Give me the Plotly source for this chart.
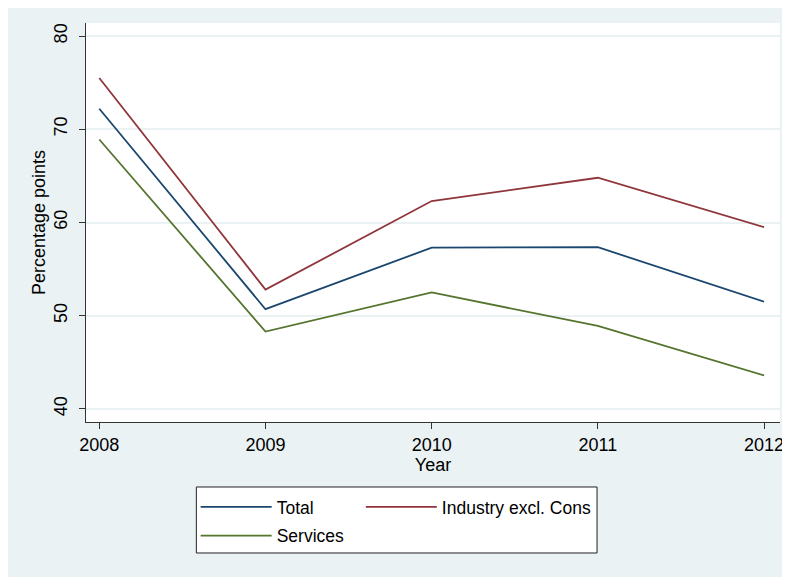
import plotly.graph_objects as go

years = [2008, 2009, 2010, 2011, 2012]
total = [72.2, 50.7, 57.3, 57.35, 51.5]
industry = [75.5, 52.8, 62.3, 64.8, 59.5]
services = [68.9, 48.3, 52.5, 48.9, 43.6]

series = [("Total", total, "#1A476F", "legend"),
          ("Industry excl. Cons", industry, "#90353B", "legend2"),
          ("Services", services, "#55752F", "legend")]

fig = go.Figure()
for name, vals, col, lg in series:
    fig.add_trace(go.Scatter(x=years, y=vals, mode="lines", name=name,
                             legend=lg, legendgroup=name,
                             line=dict(color=col, width=1.8)))

fam = "Liberation Sans, Arial, sans-serif"
legfont = dict(family=fam, size=17.5, color="black")
fig.update_layout(
    width=782, height=569,
    margin=dict(l=78, r=6, t=15, b=155),
    paper_bgcolor="#EAF2F3", plot_bgcolor="white",
    font=dict(family=fam, size=18, color="black"),
    showlegend=True,
    legend=dict(orientation="v", x=0.158, y=-0.168, xanchor="left", yanchor="top",
                bgcolor="rgba(0,0,0,0)", borderwidth=0, itemwidth=71,
                tracegroupgap=3, font=legfont),
    legend2=dict(orientation="v", x=0.396, y=-0.168, xanchor="left", yanchor="top",
                 bgcolor="rgba(0,0,0,0)", borderwidth=0, itemwidth=71,
                 tracegroupgap=3, font=legfont),
    shapes=[dict(type="rect", xref="paper", yref="paper",
                 x0=0.159, x1=0.7364, y0=-0.3283, y1=-0.1629,
                 fillcolor="white", line=dict(color="#222", width=1), layer="below")],
)
fig.update_xaxes(range=[2007.92, 2012.096], tickvals=years, ticks="outside", ticklen=6,
                 tickcolor="#333", showline=True, linecolor="#333", linewidth=1.2,
                 showgrid=False, zeroline=False, tickfont=dict(size=18),
                 title=dict(text="Year", standoff=0, font=dict(size=18)))
fig.update_yaxes(range=[38.6, 81.4], tickvals=[40, 50, 60, 70, 80], tickangle=-90,
                 ticks="outside", ticklen=6, tickcolor="#333", showline=True,
                 linecolor="#333", linewidth=1.2, showgrid=True, gridcolor="#EAF2F3",
                 gridwidth=1.5, zeroline=False, tickfont=dict(size=18),
                 ticklabelstandoff=5,
                 title=dict(text="Percentage points", standoff=0, font=dict(size=18)))

fig.write_html("out.html")
